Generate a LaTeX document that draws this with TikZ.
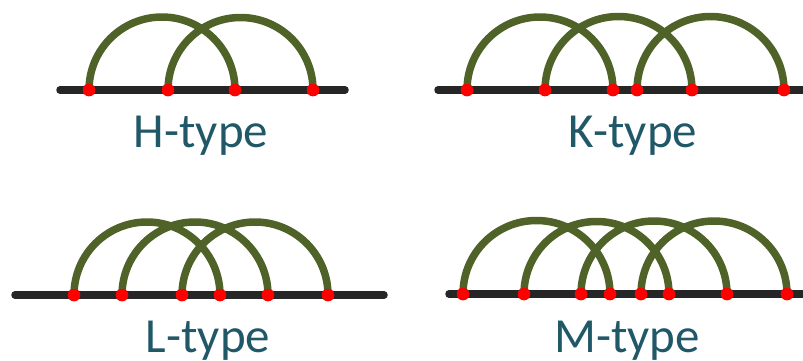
\documentclass[tikz,border=0pt]{standalone}
\usepackage{fontspec}
\setmainfont{Carlito}
\usetikzlibrary{calc}
\definecolor{arcgreen}{HTML}{4F6228}
\definecolor{axisgray}{HTML}{262626}
\definecolor{labelteal}{HTML}{215868}
\begin{document}
\begin{tikzpicture}[x=1pt,y=-1pt,
  axisline/.style={draw=axisgray,line width=7.5pt,line cap=round},
  chord/.style={draw=arcgreen,line width=7.5pt},
  site/.style={circle,fill=red,inner sep=0pt,minimum size=12.5pt},
  typelabel/.style={anchor=base,text=labelteal,font=\fontsize{49}{58}\selectfont,inner sep=0pt}]
\useasboundingbox (0,0) rectangle (803,360);
\clip (0,0) rectangle (803,360);
\newcommand\semi[2]{\draw[chord] let \p1=(#1), \p2=(#2) in (\p1) arc[start angle=180,end angle=0,radius={(\x2-\x1)/2}];}
% ---------- H-type
\coordinate (h0) at (60,90);
\coordinate (h9) at (345,90);
\draw[axisline] (h0) -- (h9);
\node[site] (h1) at (89,90) {};
\node[site] (h2) at (168,90) {};
\node[site] (h3) at (235,90) {};
\node[site] (h4) at (313,90) {};
\semi{h1}{h3}\semi{h2}{h4}
\foreach \n in {h1,h2,h3,h4} \node[site] at (\n) {};
\node[typelabel] (ht) at (201,147) {H-type};
% ---------- K-type
\coordinate (k0) at (438,90);
\coordinate (k9) at (815,90);
\draw[axisline] (k0) -- (k9);
\node[site] (k1) at (467,90) {};
\node[site] (k2) at (545,90) {};
\node[site] (k3) at (613,90) {};
\node[site] (k4) at (637,90) {};
\node[site] (k5) at (692,90) {};
\node[site] (k6) at (784,90) {};
\semi{k1}{k3}\semi{k2}{k5}\semi{k4}{k6}
\foreach \n in {k1,k2,k3,k4,k5,k6} \node[site] at (\n) {};
\node[typelabel] (kt) at (633,147) {K-type};
% ---------- L-type
\coordinate (l0) at (15,295);
\coordinate (l9) at (384,295);
\draw[axisline] (l0) -- (l9);
\node[site] (l1) at (74,295) {};
\node[site] (l2) at (122,295) {};
\node[site] (l3) at (182,295) {};
\node[site] (l4) at (220,295) {};
\node[site] (l5) at (268,295) {};
\node[site] (l6) at (328,295) {};
\semi{l1}{l4}\semi{l2}{l5}\semi{l3}{l6}
\foreach \n in {l1,l2,l3,l4,l5,l6} \node[site] at (\n) {};
\node[typelabel] (lt) at (208,352) {L-type};
% ---------- M-type
\coordinate (m0) at (449,294);
\coordinate (m9) at (815,294);
\draw[axisline] (m0) -- (m9);
\node[site] (m1) at (463,294) {};
\node[site] (m2) at (524,294) {};
\node[site] (m3) at (581,294) {};
\node[site] (m4) at (610,294) {};
\node[site] (m5) at (641,294) {};
\node[site] (m6) at (669,294) {};
\node[site] (m7) at (727,294) {};
\node[site] (m8) at (787,294) {};
\semi{m1}{m4}\semi{m2}{m6}\semi{m3}{m7}\semi{m5}{m8}
\foreach \n in {m1,m2,m3,m4,m5,m6,m7,m8} \node[site] at (\n) {};
\node[typelabel] (mt) at (627,352) {M-type};
\end{tikzpicture}
\end{document}
